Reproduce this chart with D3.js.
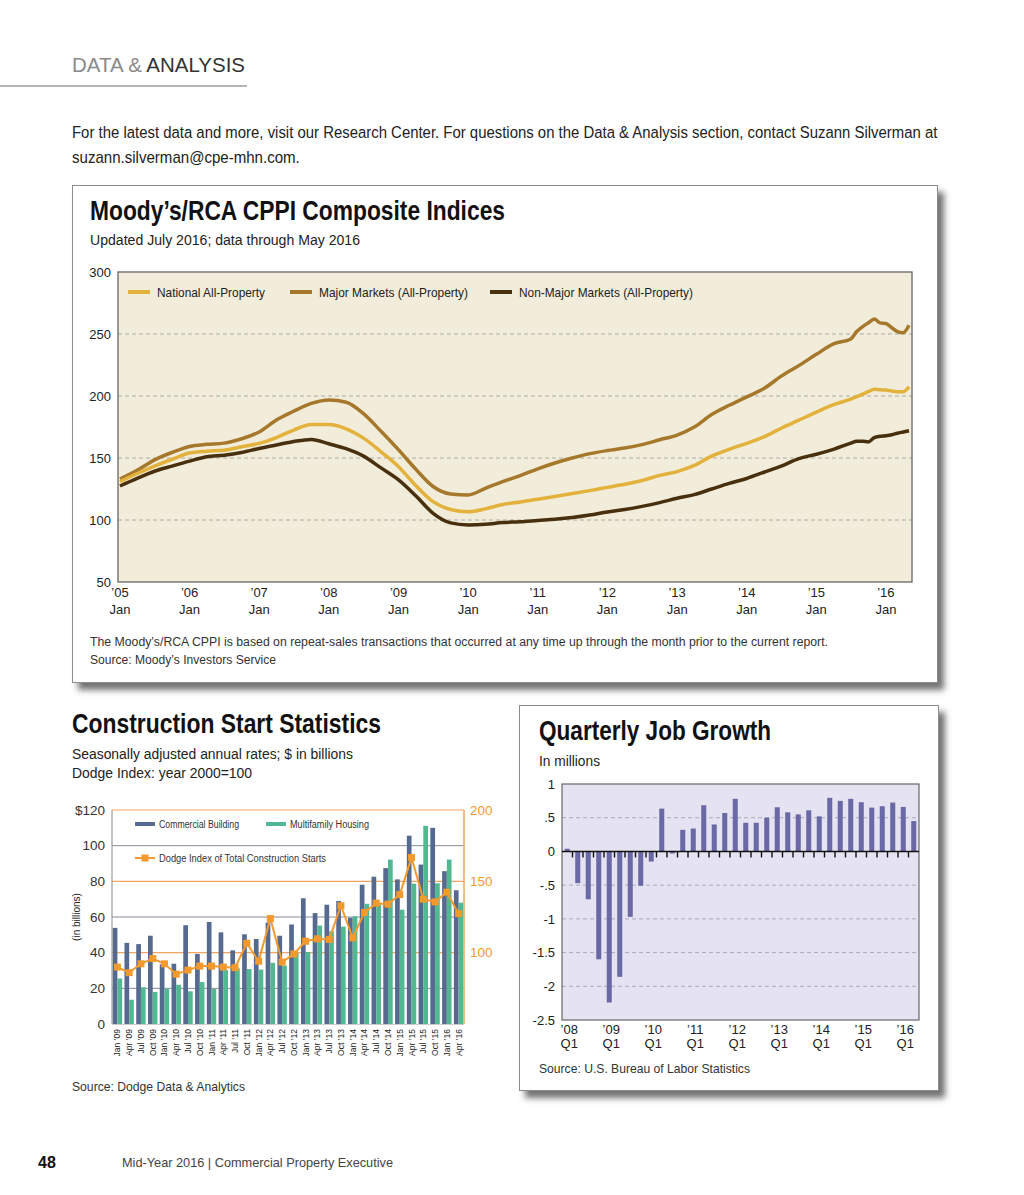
<!DOCTYPE html>
<html>
<head>
<meta charset="utf-8">
<script src="https://cdn.jsdelivr.net/npm/d3@7"></script>
<style>
  body { margin: 0; background: #fff; }
  svg text { font-family: "Liberation Sans", Arial, sans-serif; fill: #222; }
  svg text.cond { font-family: "Liberation Sans Narrow", "Liberation Sans", Arial, sans-serif; }
</style>
</head>
<body>
<svg id="page" width="1024" height="1195"></svg>
<script>
// ---- CPPI composite indices (quarterly, monthly at the end) ----
var cppiDates = ['2005-01','2005-04','2005-07','2005-10','2006-01','2006-04','2006-07','2006-10',
  '2007-01','2007-04','2007-07','2007-10','2008-01','2008-04','2008-07','2008-10',
  '2009-01','2009-04','2009-07','2009-10','2010-01','2010-04','2010-07','2010-10',
  '2011-01','2011-04','2011-07','2011-10','2012-01','2012-04','2012-07','2012-10',
  '2013-01','2013-04','2013-07','2013-10','2014-01','2014-04','2014-07','2014-10',
  '2015-01','2015-04','2015-07','2015-08','2015-09','2015-10','2015-11','2015-12',
  '2016-01','2016-02','2016-03','2016-04','2016-05'];
var national = [131,137.5,143.5,149,154,155.5,156.3,159,161.8,166.5,172.5,177,177,173.5,166,
  155,143,127.8,114.8,108.5,106.7,109,112.5,114.6,116.8,119,121.3,123.7,126.3,128.8,
  131.8,136,139,144,151.5,157,161.8,167,174,180.5,187,193,197.5,
  199.5,201.5,203.5,205.4,205,204.8,204,203.5,203.5,207.5];
var major = [133,140,148.5,154.5,159.3,161,162,165.5,171,180.6,187.7,194,196.8,195,185.8,
  171.5,156.5,141,127,121,120.2,125.5,131,135.8,141.3,146,150,153.5,156,158,
  160.8,164.7,168.5,175,185,192.5,199.3,206,216,224.5,233.6,242,246,
  252,256,259,262,259,258.5,255,252,251,257];
var nonMajor = [127.4,133.5,139.3,143.5,147.5,151,152.3,154.5,157.7,160.5,163.3,165,161.5,157.5,151.5,
  142,132.3,119.5,105.4,97.7,96,96.5,98,98.5,99.6,100.6,102,104,106.5,108.5,
  111,114,117.5,120.5,125,129.5,133.5,138.5,143.5,149.5,153,157,162,
  163.5,163.5,163,166.5,167.5,168,168.8,170,171,172];
var cppiYears = ['2005','2006','2007','2008','2009','2010','2011','2012','2013','2014','2015','2016'];
var cppiTicks = [50,100,150,200,250,300];
var cppiSeries = ['National All-Property','Major Markets (All-Property)','Non-Major Markets (All-Property)'];

// ---- Construction starts ----
var conQuarters = ["Jan ’09","Apr ’09","Jul ’09","Oct ’09","Jan ’10","Apr ’10","Jul ’10","Oct ’10",
  "Jan ’11","Apr ’11","Jul ’11","Oct ’11","Jan ’12","Apr ’12","Jul ’12","Oct ’12",
  "Jan ’13","Apr ’13","Jul ’13","Oct ’13","Jan ’14","Apr ’14","Jul ’14","Oct ’14",
  "Jan ’15","Apr ’15","Jul ’15","Oct ’15","Jan ’16","Apr ’16"];
var commercial = [53.9,45.5,44.8,49.5,33.5,33.8,55.4,39.3,57.2,51.4,41.3,50.3,47.7,56.9,49.5,55.8,
  70.5,62.2,66.9,69,59.6,78.1,82.6,87.4,81.1,105.6,89.4,110,85.7,75];
var multifamily = [25.5,13.6,20.6,18,19.8,22,18.3,23.5,19.6,30.3,31.2,30.8,30.5,34.3,32.8,39.8,
  40.4,55.2,52,54.6,60.4,67.4,67,92.2,64.1,78.7,111.1,78.9,92.2,68];
var dodgeIndex = [89.9,86,92.2,95.9,92.2,84.9,87.8,90.6,90.6,89.9,89.5,106.6,94,123.9,93.4,99.1,
  108,109.7,109.3,132.9,110.4,128.2,134.7,134,140.7,166.7,137.5,135.6,142.4,127.3];
var conLeftTicks = [0,20,40,60,80,100,120];
var conRightTicks = [100,150,200];

// ---- Quarterly job growth ----
var jobQuarters = ['08Q1','08Q2','08Q3','08Q4','09Q1','09Q2','09Q3','09Q4','10Q1','10Q2','10Q3','10Q4',
  '11Q1','11Q2','11Q3','11Q4','12Q1','12Q2','12Q3','12Q4','13Q1','13Q2','13Q3','13Q4',
  '14Q1','14Q2','14Q3','14Q4','15Q1','15Q2','15Q3','15Q4','16Q1','16Q2'];
var jobGrowth = [0.04,-0.47,-0.71,-1.60,-2.24,-1.86,-0.97,-0.51,-0.15,0.635,-0.03,0.32,0.34,0.685,0.40,
  0.57,0.78,0.425,0.425,0.50,0.655,0.58,0.55,0.61,0.52,0.795,0.75,0.78,0.73,0.65,0.67,0.725,0.66,0.45];
var jobTicks = [-2.5,-2,-1.5,-1,-0.5,0,0.5,1];

var svg = d3.select('#page');

// drop shadow for the boxed panels
var defs = svg.append('defs');
var f = defs.append('filter').attr('id', 'shadow').attr('x', '-5%').attr('y', '-5%').attr('width', '115%').attr('height', '120%');
f.append('feDropShadow').attr('dx', 6).attr('dy', 7).attr('stdDeviation', 3)
  .attr('flood-color', '#444').attr('flood-opacity', 0.75);

function txt(g, x, y, s, size, opt) {
  opt = opt || {};
  var t = g.append('text').attr('x', x).attr('y', y).text(s)
    .style('font-size', size + 'px')
    .attr('text-anchor', opt.anchor || 'start');
  if (opt.cls) t.attr('class', opt.cls);
  if (opt.weight) t.style('font-weight', opt.weight);
  if (opt.fill) t.style('fill', opt.fill);
  if (opt.width) t.attr('textLength', opt.width).attr('lengthAdjust', 'spacingAndGlyphs');
  return t;
}

// squeeze a text horizontally to a given width (condensed look)
function squeeze(g, x, y, s, size, width) {
  var t = g.append('text').attr('class', 'cond').style('font-size', size + 'px').text(s);
  var w = t.node().getComputedTextLength();
  t.attr('transform', 'translate(' + x + ',' + y + ') scale(' + (width / w) + ',1)');
  return t;
}

// ---- page header ----
var hdr = svg.append('text').attr('x', 72).attr('y', 72).style('font-size', '21px')
  .attr('textLength', 173).attr('lengthAdjust', 'spacingAndGlyphs');
hdr.append('tspan').text('DATA & ').style('fill', '#8a8a8a');
hdr.append('tspan').text('ANALYSIS').style('fill', '#333');
svg.append('line').attr('x1', 0).attr('x2', 247).attr('y1', 86).attr('y2', 86)
  .attr('stroke', '#b5b5b5').attr('stroke-width', 2);

squeeze(svg, 72, 138, 'For the latest data and more, visit our Research Center. For questions on the Data & Analysis section, contact Suzann Silverman at', 17, 866);
squeeze(svg, 72, 163, 'suzann.silverman@cpe-mhn.com.', 17, 228);

// ---- CPPI panel ----
svg.append('rect').attr('x', 72.5).attr('y', 185.5).attr('width', 865).attr('height', 497)
  .attr('fill', '#fff').attr('stroke', '#8c8c8c').attr('filter', 'url(#shadow)');
txt(svg, 90, 220, 'Moody’s/RCA CPPI Composite Indices', 27, {cls: 'cond', weight: 'bold', width: 415, fill: '#111'});
txt(svg, 90, 245, 'Updated July 2016; data through May 2016', 14, {width: 270});

var parse = d3.timeParse('%Y-%m');
var x = d3.scaleTime().domain([parse('2005-01'), parse('2016-05')]).range([120, 909]);
var y = d3.scaleLinear().domain([50, 300]).range([582, 272]);

var cppi = svg.append('g');
cppi.append('rect').attr('x', 118).attr('y', 272).attr('width', 794).attr('height', 310)
  .attr('fill', '#f2eddb');
cppi.selectAll('.grid').data(cppiTicks.slice(1, -1)).enter().append('line')
  .attr('x1', 118).attr('x2', 912).attr('y1', function(d) { return y(d); }).attr('y2', function(d) { return y(d); })
  .attr('stroke', '#9b9b9b').attr('stroke-width', 0.8).attr('stroke-dasharray', '4,3');
cppi.append('rect').attr('x', 118).attr('y', 272).attr('width', 794).attr('height', 310)
  .attr('fill', 'none').attr('stroke', '#666').attr('stroke-width', 1.3);

var yAx = cppi.append('g').attr('transform', 'translate(118,0)')
  .call(d3.axisLeft(y).tickValues(cppiTicks).tickSize(0).tickPadding(7));
yAx.select('.domain').remove();
yAx.selectAll('text').style('font-size', '13px').style('font-family', '"Liberation Sans", Arial, sans-serif').style('fill', '#222');

cppiYears.forEach(function(yr) {
  var xx = x(parse(yr + '-01'));
  txt(cppi, xx, 597, '’' + yr.slice(2), 13, {anchor: 'middle'});
  txt(cppi, xx, 614, 'Jan', 13, {anchor: 'middle'});
});

var rows = cppiDates.map(function(d, i) {
  return {date: parse(d), nat: national[i], maj: major[i], non: nonMajor[i]};
});
var colors = {nat: '#e3b23c', maj: '#a6782c', non: '#48300f'};
['maj', 'nat', 'non'].forEach(function(k) {
  var line = d3.line().x(function(d) { return x(d.date); }).y(function(d) { return y(d[k]); })
    .curve(d3.curveMonotoneX);
  cppi.append('path').datum(rows).attr('d', line).attr('fill', 'none')
    .attr('stroke', colors[k]).attr('stroke-width', 3.5).attr('stroke-linejoin', 'round');
});

var legX = [128, 290, 490], legW = [108, 149, 174], legK = ['nat', 'maj', 'non'];
cppiSeries.forEach(function(s, i) {
  cppi.append('line').attr('x1', legX[i]).attr('x2', legX[i] + 22).attr('y1', 292).attr('y2', 292)
    .attr('stroke', colors[legK[i]]).attr('stroke-width', 4);
  txt(cppi, legX[i] + 29, 297, s, 13, {cls: 'cond', width: legW[i]});
});

txt(svg, 90, 646, 'The Moody’s/RCA CPPI is based on repeat-sales transactions that occurred at any time up through the month prior to the current report.', 12.5, {cls: 'cond', width: 738, fill: '#333'});
txt(svg, 90, 664, 'Source: Moody’s Investors Service', 12.5, {cls: 'cond', width: 186, fill: '#333'});

// ---- Construction start statistics ----
txt(svg, 72, 733, 'Construction Start Statistics', 27, {cls: 'cond', weight: 'bold', width: 309, fill: '#111'});
txt(svg, 72, 759, 'Seasonally adjusted annual rates; $ in billions', 14, {width: 281});
txt(svg, 72, 778, 'Dodge Index: year 2000=100', 14, {width: 180});

var cx = d3.scaleBand().domain(conQuarters).range([112, 464]).paddingInner(0.2).paddingOuter(0.06);
var sub = d3.scaleBand().domain(['c', 'm']).range([0, cx.bandwidth()]);
var cy = d3.scaleLinear().domain([0, 120]).range([1024, 810]);
var cyR = d3.scaleLinear().domain([50, 200]).range([1024, 810]);
var orange = '#f39a2e';

var con = svg.append('g');
// gridlines: grey on the $ scale, orange on the index scale
[20, 60, 100].forEach(function(v) {
  con.append('line').attr('x1', 112).attr('x2', 464).attr('y1', cy(v)).attr('y2', cy(v))
    .attr('stroke', '#8a8a99').attr('stroke-width', 1);
});
[100, 150, 200].forEach(function(v) {
  con.append('line').attr('x1', 112).attr('x2', 464).attr('y1', cyR(v)).attr('y2', cyR(v))
    .attr('stroke', '#f2a462').attr('stroke-width', 1.2);
});

con.selectAll('.com').data(commercial).enter().append('rect')
  .attr('x', function(d, i) { return cx(conQuarters[i]) + sub('c'); })
  .attr('width', sub.bandwidth())
  .attr('y', function(d) { return cy(d); })
  .attr('height', function(d) { return cy(0) - cy(d); })
  .attr('fill', '#56698f');
con.selectAll('.mf').data(multifamily).enter().append('rect')
  .attr('x', function(d, i) { return cx(conQuarters[i]) + sub('m'); })
  .attr('width', sub.bandwidth())
  .attr('y', function(d) { return cy(d); })
  .attr('height', function(d) { return cy(0) - cy(d); })
  .attr('fill', '#52b892');

var dLine = d3.line()
  .x(function(d, i) { return cx(conQuarters[i]) + cx.bandwidth() / 2; })
  .y(function(d) { return cyR(d); });
con.append('path').datum(dodgeIndex).attr('d', dLine).attr('fill', 'none')
  .attr('stroke', orange).attr('stroke-width', 2);
con.selectAll('.mk').data(dodgeIndex).enter().append('rect')
  .attr('x', function(d, i) { return cx(conQuarters[i]) + cx.bandwidth() / 2 - 3.5; })
  .attr('y', function(d) { return cyR(d) - 3.5; })
  .attr('width', 7).attr('height', 7).attr('fill', orange);

// frame
con.append('line').attr('x1', 112).attr('x2', 112).attr('y1', 810).attr('y2', 1024).attr('stroke', '#888');
con.append('line').attr('x1', 464).attr('x2', 464).attr('y1', 810).attr('y2', 1024).attr('stroke', '#f2a462').attr('stroke-width', 1.5);
con.append('line').attr('x1', 112).attr('x2', 464).attr('y1', 1024.5).attr('y2', 1024.5).attr('stroke', '#ccc');

var cl = con.append('g').attr('transform', 'translate(112,0)')
  .call(d3.axisLeft(cy).tickValues(conLeftTicks).tickSize(0).tickPadding(7)
    .tickFormat(function(d) { return d === 120 ? '$120' : d; }));
cl.select('.domain').remove();
cl.selectAll('text').style('font-size', '13.5px').style('font-family', '"Liberation Sans", Arial, sans-serif').style('fill', '#333');
var cr = con.append('g').attr('transform', 'translate(464,0)')
  .call(d3.axisRight(cyR).tickValues(conRightTicks).tickSize(0).tickPadding(6));
cr.select('.domain').remove();
cr.selectAll('text').style('font-size', '13.5px').style('font-family', '"Liberation Sans", Arial, sans-serif').style('fill', orange);

con.append('text').attr('transform', 'translate(80,917) rotate(-90)').attr('text-anchor', 'middle')
  .style('font-size', '10px').text('(in billions)');

conQuarters.forEach(function(q) {
  con.append('text')
    .attr('transform', 'translate(' + (cx(q) + cx.bandwidth() / 2 + 3) + ',1029) rotate(-90)')
    .attr('text-anchor', 'end').style('font-size', '8.5px').text(q);
});

// legend
con.append('rect').attr('x', 135).attr('y', 822).attr('width', 20).attr('height', 4).attr('fill', '#56698f');
txt(con, 159, 828, 'Commercial Building', 10, {width: 80, fill: '#333'});
con.append('rect').attr('x', 266).attr('y', 822).attr('width', 20).attr('height', 4).attr('fill', '#52b892');
txt(con, 290, 828, 'Multifamily Housing', 10, {width: 79, fill: '#333'});
con.append('line').attr('x1', 135).attr('x2', 155).attr('y1', 858).attr('y2', 858).attr('stroke', orange).attr('stroke-width', 2);
con.append('rect').attr('x', 141.5).attr('y', 854.5).attr('width', 7).attr('height', 7).attr('fill', orange);
txt(con, 159, 862, 'Dodge Index of Total Construction Starts', 10, {width: 167, fill: '#333'});

txt(svg, 72, 1091, 'Source: Dodge Data & Analytics', 13, {width: 173, fill: '#333'});

// ---- Quarterly job growth panel ----
svg.append('rect').attr('x', 519.5).attr('y', 705.5).attr('width', 419).attr('height', 385)
  .attr('fill', '#fff').attr('stroke', '#8c8c8c').attr('filter', 'url(#shadow)');
txt(svg, 539, 740, 'Quarterly Job Growth', 27, {cls: 'cond', weight: 'bold', width: 232, fill: '#111'});
txt(svg, 539, 766, 'In millions', 14, {width: 61});

var jx = d3.scaleBand().domain(jobQuarters).range([562, 919]).paddingInner(0.52).paddingOuter(0.26);
var jy = d3.scaleLinear().domain([-2.5, 1]).range([1020, 784]);
var job = svg.append('g');
job.append('rect').attr('x', 562).attr('y', 784).attr('width', 357).attr('height', 236).attr('fill', '#e5e3f1');
[-2, -1.5, -1, -0.5, 0.5].forEach(function(v) {
  job.append('line').attr('x1', 562).attr('x2', 919).attr('y1', jy(v)).attr('y2', jy(v))
    .attr('stroke', '#9d9cae').attr('stroke-width', 0.8).attr('stroke-dasharray', '4,3');
});
job.selectAll('.jb').data(jobGrowth).enter().append('rect')
  .attr('x', function(d, i) { return jx(jobQuarters[i]); })
  .attr('width', jx.bandwidth())
  .attr('y', function(d) { return jy(Math.max(0, d)); })
  .attr('height', function(d) { return Math.abs(jy(d) - jy(0)); })
  .attr('fill', '#6a69a5');
job.append('rect').attr('x', 562).attr('y', 784).attr('width', 357).attr('height', 236)
  .attr('fill', 'none').attr('stroke', '#666').attr('stroke-width', 1.2);
job.append('line').attr('x1', 562).attr('x2', 919).attr('y1', jy(0)).attr('y2', jy(0))
  .attr('stroke', '#111').attr('stroke-width', 1.6);
var stepJ = jx.step();
jobQuarters.slice(1).forEach(function(q) {
  var tx = jx(q) - stepJ * jx.paddingInner() / 2;
  job.append('line').attr('x1', tx).attr('x2', tx).attr('y1', jy(0)).attr('y2', jy(0) + 6)
    .attr('stroke', '#111').attr('stroke-width', 1.4);
});
var jl = job.append('g').attr('transform', 'translate(562,0)')
  .call(d3.axisLeft(jy).tickValues(jobTicks).tickSize(0).tickPadding(7)
    .tickFormat(function(d) { return d === 0 ? '0' : String(d).replace('0.', '.'); }));
jl.select('.domain').remove();
jl.selectAll('text').style('font-size', '13px').style('font-family', '"Liberation Sans", Arial, sans-serif').style('fill', '#222');

jobQuarters.forEach(function(q) {
  if (q.slice(2) !== 'Q1') return;
  var xx = jx(q) + jx.bandwidth() / 2 + 2;
  txt(job, xx, 1034, '’' + q.slice(0, 2), 13, {anchor: 'middle'});
  txt(job, xx, 1048, 'Q1', 13, {anchor: 'middle'});
});

txt(svg, 539, 1073, 'Source: U.S. Bureau of Labor Statistics', 13, {width: 211, fill: '#333'});

// ---- footer ----
txt(svg, 38, 1168, '48', 16, {weight: 'bold', fill: '#111'});
txt(svg, 122, 1167, 'Mid-Year 2016  |  Commercial Property Executive', 13, {cls: 'cond', width: 271, fill: '#444'});
</script>
</body>
</html>
